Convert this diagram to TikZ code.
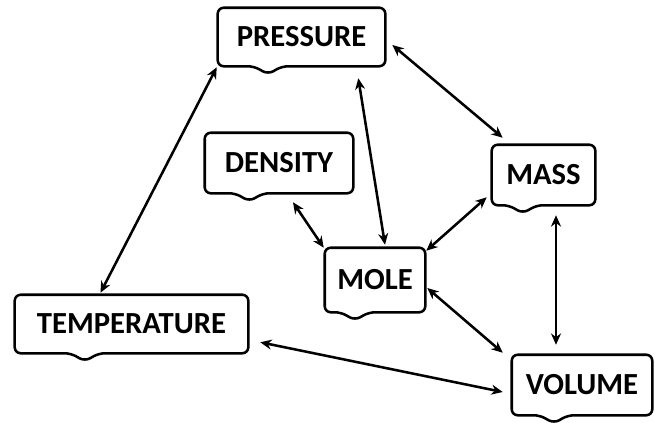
\documentclass[tikz,border=0pt]{standalone}
\usepackage{fontspec}
\setmainfont{Carlito}
\usetikzlibrary{arrows.meta,calc}
\tikzset{
  word/.style={rectangle, inner sep=0pt, align=center, text=black,
               font=\fontsize{23}{26}\selectfont\bfseries},
  bubble/.style={draw=black, line width=1.9pt, rounded corners=4.5pt, line join=round},
  link/.style={{Stealth[length=8.5pt,width=7.5pt]}-{Stealth[length=8.5pt,width=7.5pt]},
               line width=1.9pt, draw=black},
}
\begin{document}
\begin{tikzpicture}[x=0.75pt, y=-0.75pt]
  \useasboundingbox (0,0) rectangle (655,422);

  \node[word, minimum width=125.3pt, minimum height=43.5pt] (pres) at (301.5,37) {PRESSURE};
  \node[word, minimum width=111pt, minimum height=45pt] (dens) at (279,163) {DENSITY};
  \node[word, minimum width=75pt, minimum height=48pt] (mole) at (375,280) {MOLE};
  \node[word, minimum width=174.8pt, minimum height=43.5pt] (temp) at (131.5,324) {TEMPERATURE};
  \node[word, minimum width=105pt, minimum height=45pt] (vol) at (582,385) {VOLUME};
  \node[word, minimum width=77.3pt, minimum height=45pt] (mass) at (543.5,175) {MASS};

  \foreach \n in {pres,dens,mole,temp,vol,mass}{
    \coordinate (\n-t) at ($(\n.south west)!0.3!(\n.south east)$);
    \draw[bubble] (\n.north west) -- (\n.north east) -- (\n.south east)
      -- ($(\n-t)+(14,0)$) -- ($(\n-t)+(0,8)$) -- ($(\n-t)+(-14,0)$)
      -- (\n.south west) -- cycle;
  }

  \draw[link] ($(pres.south west)+(-1,1)$) -- ($(temp.north)+(-31,-2)$);
  \draw[link] ($(pres.east)+(7,8)$) -- ($(mass.north west)+(11,-7)$);
  \draw[link] ($(pres.south east)+(-27,12)$) -- ($(mole.north)+(10,-3)$);
  \draw[link] ($(dens.south)+(14,9)$) -- ($(mole.north west)+(-1,0)$);
  \draw[link] ($(mass.south west)+(-5,-8)$) -- ($(mole.north east)+(1,3)$);
  \draw[link] ($(mass.south)+(12.5,10)$) -- ($(vol.north)+(-26,-10)$);
  \draw[link] ($(mole.east)+(2,8)$) -- ($(vol.north west)+(-9,-2)$);
  \draw[link] ($(temp.south east)+(12,-11)$) -- ($(vol.west)+(-9,7)$);
\end{tikzpicture}
\end{document}
